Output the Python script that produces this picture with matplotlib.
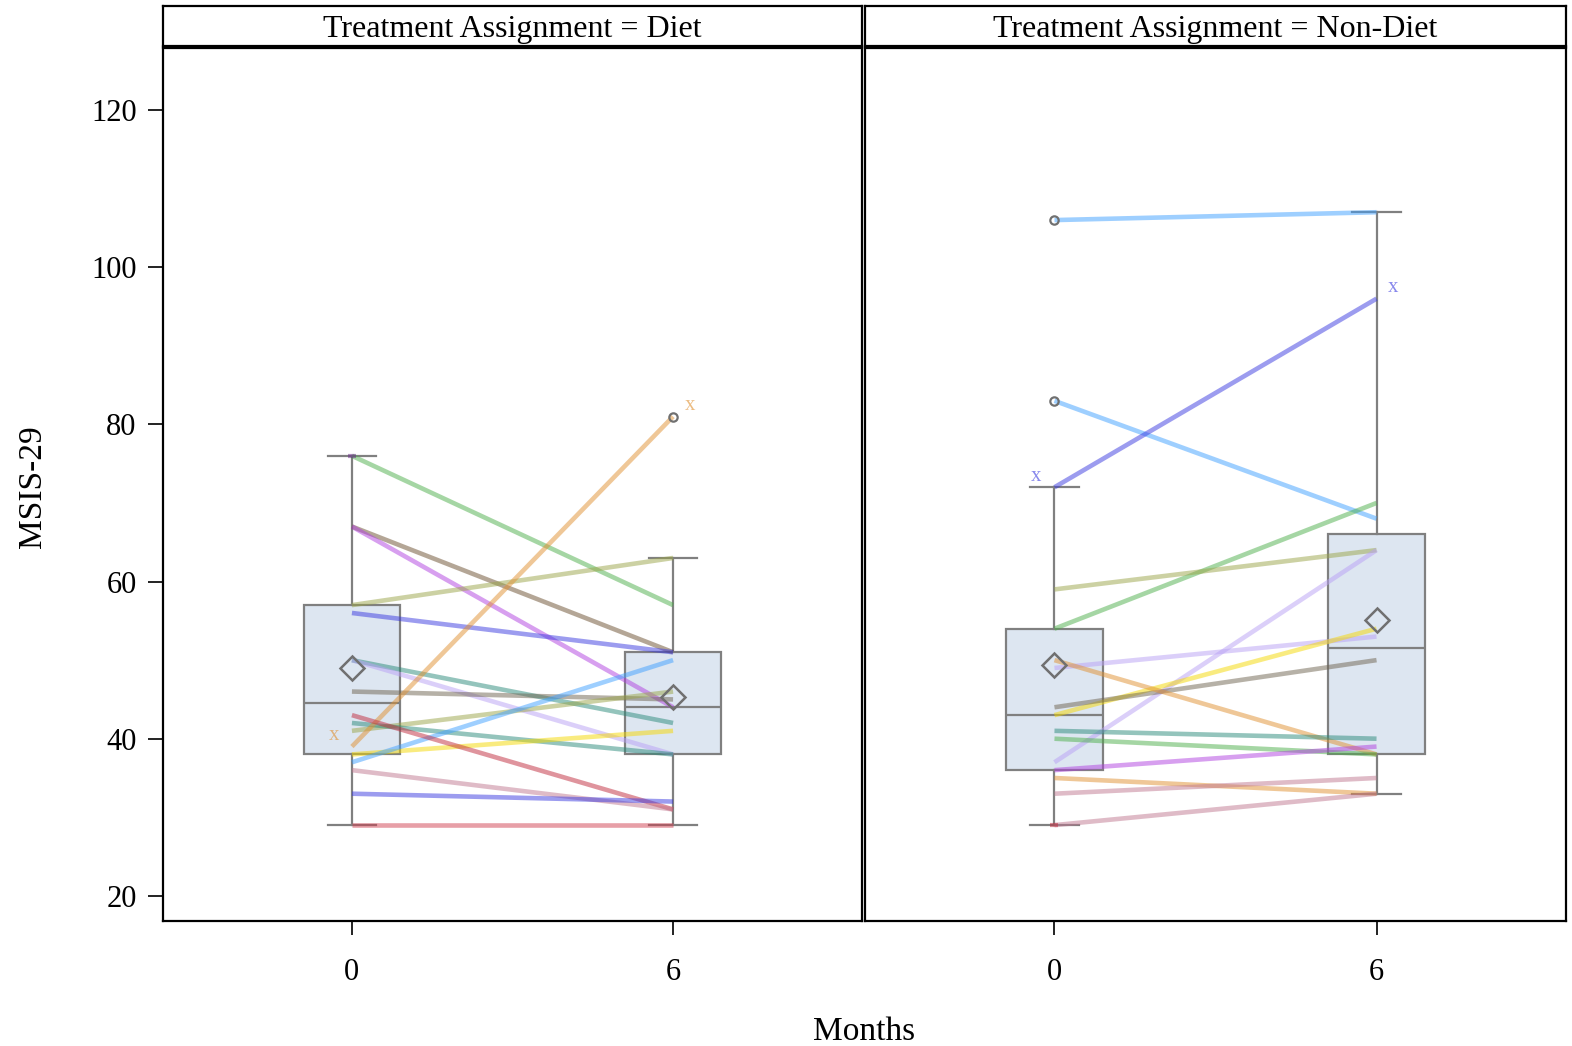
import numpy as np
import matplotlib
matplotlib.use("Agg")
import matplotlib.pyplot as plt

plt.rcParams['font.family'] = ['Liberation Serif', 'DejaVu Serif']

months = [0, 6]
groups = ["Diet", "Non-Diet"]

# Diet subjects: month 0, month 6 (nan = missing)
diet_m0 = [76, 67, 67, 57, 56, 50, 50, 46, 41, 42, 38, 37, 39, 43, 36, 33, 29, 76]
diet_m6 = [57, 51, 44, 63, 51, 42, 38, 45, 46, 38, 41, 50, 81, 31, 31, 32, 29, np.nan]
diet_colors = ['#4daf4a', '#6b4f2f', '#b040e0', '#9aa548', '#3a3ae0', '#2a8a7a',
               '#b8a0f5', '#6f6450', '#9aa548', '#2a8a7a', '#f5d800', '#3fa0ff',
               '#e09030', '#c02a3c', '#c07890', '#3a3ae0', '#d04050', '#6a2a8a']

# Non-Diet subjects
nond_m0 = [106, 83, 72, 54, 59, 37, 49, 43, 44, 50, 41, 40, 36, 35, 33, 29, 29]
nond_m6 = [107, 68, 96, 70, 64, 64, 53, 54, 50, 38, 40, 38, 39, 33, 35, 33, np.nan]
nond_colors = ['#3fa0ff', '#3fa0ff', '#3a3ae0', '#4daf4a', '#9aa548', '#b8a0f5',
               '#b8a0f5', '#f5d800', '#6f6450', '#e09030', '#2a8a7a', '#4daf4a',
               '#b040e0', '#e09030', '#c07890', '#c07890', '#c02a3c']

# labelled subjects: (group index -> subject indices)
labelled = {0: [12], 1: [2]}

yticks = [20, 40, 60, 80, 100, 120]


def sas_quantile(vals, p):
    v = np.sort(np.asarray(vals))
    n = len(v)
    np_ = n * p
    j = int(np.floor(np_))
    if abs(np_ - j) < 1e-9:
        return (v[j - 1] + v[j]) / 2.0
    return v[j]


def stats(vals):
    v = np.asarray([x for x in vals if not np.isnan(x)])
    q1 = sas_quantile(v, 0.25)
    q3 = sas_quantile(v, 0.75)
    med = sas_quantile(v, 0.5)
    iqr = q3 - q1
    lo_f, hi_f = q1 - 1.5 * iqr, q3 + 1.5 * iqr
    whislo = v[v >= lo_f].min()
    whishi = v[v <= hi_f].max()
    fliers = v[(v < lo_f) | (v > hi_f)]
    return dict(med=med, q1=q1, q3=q3, whislo=whislo, whishi=whishi,
                mean=v.mean(), fliers=fliers)


W, H = 1572, 1046
fig = plt.figure(figsize=(W / 100, H / 100), dpi=100)

def frac(x0, y0, x1, y1):
    return [x0 / W, 1 - y1 / H, (x1 - x0) / W, (y1 - y0) / H]

panels = [(163, 862), (865, 1566)]
data = [(diet_m0, diet_m6, diet_colors), (nond_m0, nond_m6, nond_colors)]
edge = '#808080'

for gi, ((x0, x1), (m0, m6, cols)) in enumerate(zip(panels, data)):
    ax = fig.add_axes(frac(x0, 48, x1, 921))
    ax.set_xlim(-3.53, 9.53)
    ax.set_ylim(16.8, 127.9)
    # boxes
    bstats = [stats(m0), stats(m6)]
    ax.bxp(bstats, positions=months, widths=1.79, showmeans=False, patch_artist=True,
           showfliers=False,
           boxprops=dict(facecolor='#dde6f1', edgecolor=edge, linewidth=1.6),
           medianprops=dict(color=edge, linewidth=1.6),
           whiskerprops=dict(color=edge, linewidth=1.6),
           capprops=dict(color=edge, linewidth=1.6),
           capwidths=0.9, zorder=1)
    # subject lines
    for i, (a, b, c) in enumerate(zip(m0, m6, cols)):
        if np.isnan(b):
            ax.plot([0], [a], marker='_', ms=6, mew=3, color=c, alpha=0.5, zorder=2)
            continue
        ax.plot(months, [a, b], color=c, lw=3.3, alpha=0.5, solid_capstyle='butt', zorder=2)
    # labels
    for i in labelled[gi]:
        c = cols[i]
        ax.annotate('x', (0, m0[i]), xytext=(-13, 8), textcoords='offset points',
                    color=c, alpha=0.6, fontsize=15, ha='center', va='center')
        ax.annotate('x', (6, m6[i]), xytext=(12, 8), textcoords='offset points',
                    color=c, alpha=0.6, fontsize=15, ha='center', va='center')
    # means and fliers
    for pos, s in zip(months, bstats):
        ax.plot([pos], [s['mean']], marker='D', ms=12, mfc='none', mec='#707070', mew=1.8, zorder=4)
        if len(s['fliers']):
            ax.plot([pos] * len(s['fliers']), s['fliers'], 'o', ms=6, mfc='none',
                    mec='#707070', mew=1.6, zorder=4)
    ax.set_xticks(months)
    ax.set_xticklabels([str(m) for m in months], fontsize=22)
    ax.tick_params(axis='x', length=10, width=1.4, color='#222222', pad=17)
    if gi == 0:
        ax.set_yticks(yticks)
        ax.set_yticklabels([str(t) for t in yticks], fontsize=22)
        ax.tick_params(axis='y', length=11, width=1.4, color='#222222', pad=8)
    else:
        ax.set_yticks([])
    for sp in ax.spines.values():
        sp.set_linewidth(1.6)
    # strip
    sax = fig.add_axes(frac(x0, 6, x1, 46))
    sax.set_xticks([])
    sax.set_yticks([])
    for sp in sax.spines.values():
        sp.set_linewidth(1.6)
    sax.text(0.5, 0.42, f"Treatment Assignment = {groups[gi]}", ha='center', va='center',
             fontsize=23, transform=sax.transAxes)

fig.text(33 / W, 1 - 487 / H, "MSIS-29", rotation=90, ha='center', va='center', fontsize=24)
fig.text(864 / W, 1 - 1032 / H, "Months", ha='center', va='center', fontsize=24)

fig.savefig("out.png", dpi=100)
